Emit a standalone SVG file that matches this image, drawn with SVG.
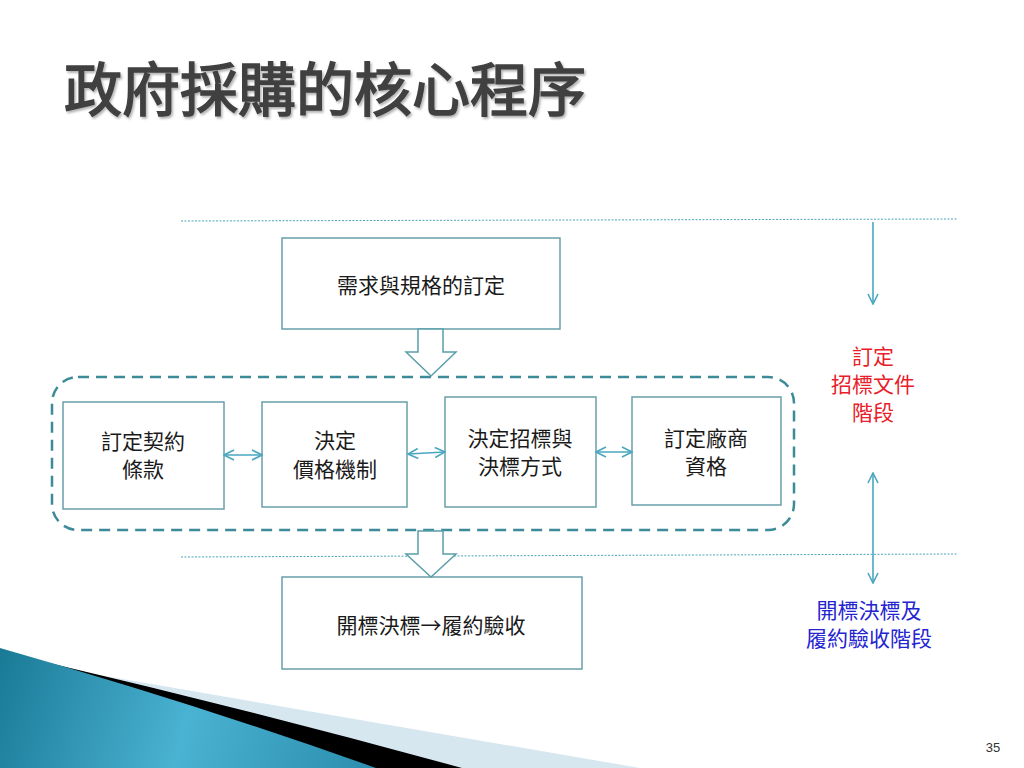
<svg xmlns="http://www.w3.org/2000/svg" width="1024" height="768" viewBox="0 0 1024 768">
<style>
.box{fill:#fff;stroke:#6a9fab;stroke-width:1.5}
.t{font-family:"Noto Sans CJK TC","Noto Sans CJK SC",sans-serif;font-size:21px;fill:#1a1a1a;text-anchor:middle}
.red{fill:#e8202a}
.blue{fill:#2424d0}
.blk{fill:#fff;stroke:#5a9fab;stroke-width:1.5}
.dot{stroke:#4aa5b4;stroke-width:1;stroke-dasharray:2 1.5;fill:none}
.dbl{stroke:#4aa7bf;stroke-width:1.6;fill:none;marker-start:url(#ah);marker-end:url(#ah)}
.one{stroke:#4aa7bf;stroke-width:1.6;fill:none;marker-end:url(#ah)}
</style>
<defs>
<marker id="ah" viewBox="0 0 12 12" refX="11" refY="6" markerWidth="12" markerHeight="12" markerUnits="userSpaceOnUse" orient="auto-start-reverse">
<path d="M1,1 L11,6 L1,11" fill="none" stroke="#4aa7bf" stroke-width="1.6"/>
</marker>
<linearGradient id="teal" x1="0" y1="650" x2="380" y2="768" gradientUnits="userSpaceOnUse">
<stop offset="0" stop-color="#1a7a96"/>
<stop offset="0.5" stop-color="#4ab2d2"/>
<stop offset="1" stop-color="#2a8dad"/>
</linearGradient>
<filter id="sh" x="-5%" y="-20%" width="110%" height="140%">
<feDropShadow dx="1.5" dy="2" stdDeviation="1.2" flood-color="#000" flood-opacity="0.3"/>
</filter>
</defs>
<rect width="1024" height="768" fill="#fff"/>
<g id="decoration">
<path d="M70,670 L640,768 L0,768 Z" fill="#d7e7f0"/>
<path d="M45,662 Q250,710 462,768 L0,768 Z" fill="#000"/>
<path d="M0,648 Q200,705 376,768 L0,768 Z" fill="url(#teal)"/>
</g>
<g id="title">
<text x="64" y="111" font-family="'Noto Sans CJK TC','Noto Sans CJK SC',sans-serif" font-size="58" font-weight="400" fill="#404040" stroke="#404040" stroke-width="1.6" filter="url(#sh)">政府採購的核心程序</text>
</g>
<g id="guides">
<line class="dot" x1="181" y1="221" x2="957" y2="219"/>
<line class="dot" x1="181" y1="557" x2="957" y2="554"/>
</g>
<g id="group-frame">
<rect x="52" y="377" width="742" height="153" rx="26" ry="26" fill="none" stroke="#3d8b99" stroke-width="2.5" stroke-dasharray="11 7"/>
</g>
<g id="node-spec">
<rect class="box" x="282" y="238" width="278" height="91"/>
<text class="t" x="421" y="293">需求與規格的訂定</text>
</g>
<g id="node-contract">
<rect class="box" x="63" y="402" width="161" height="107"/>
<text class="t" x="143" y="449">訂定契約</text>
<text class="t" x="143" y="477">條款</text>
</g>
<g id="node-price">
<rect class="box" x="262" y="402" width="145" height="105"/>
<text class="t" x="335" y="448">決定</text>
<text class="t" x="335" y="477">價格機制</text>
</g>
<g id="node-method">
<rect class="box" x="445" y="397" width="151" height="110"/>
<text class="t" x="520" y="446">決定招標與</text>
<text class="t" x="520" y="474">決標方式</text>
</g>
<g id="node-qual">
<rect class="box" x="632" y="397" width="149" height="108"/>
<text class="t" x="706" y="446">訂定廠商</text>
<text class="t" x="706" y="474">資格</text>
</g>
<g id="node-award">
<rect class="box" x="282" y="577" width="300" height="92"/>
<text class="t" x="431" y="633">開標決標→履約驗收</text>
</g>
<g id="connectors">
<polygon class="blk" points="418,329 443,329 443,352 456,352 431,376 406,352 418,352"/>
<polygon class="blk" points="418,531 443,531 443,554 456,554 431,577 406,554 418,554"/>
<line class="dbl" x1="224" y1="455" x2="262" y2="455"/>
<line class="dbl" x1="408" y1="454" x2="445" y2="452"/>
<line class="dbl" x1="596" y1="452" x2="632" y2="452"/>
<line class="one" x1="873" y1="222" x2="873" y2="304"/>
<line class="dbl" x1="873" y1="473" x2="873" y2="583"/>
</g>
<g id="label-stage1">
<text class="t red" x="873" y="364">訂定</text>
<text class="t red" x="873" y="392">招標文件</text>
<text class="t red" x="873" y="420">階段</text>
</g>
<g id="label-stage2">
<text class="t blue" x="869" y="618">開標決標及</text>
<text class="t blue" x="869" y="646">履約驗收階段</text>
</g>
<text x="993" y="752" font-family="'Liberation Sans',sans-serif" font-size="13" fill="#333" text-anchor="middle">35</text>
</svg>
